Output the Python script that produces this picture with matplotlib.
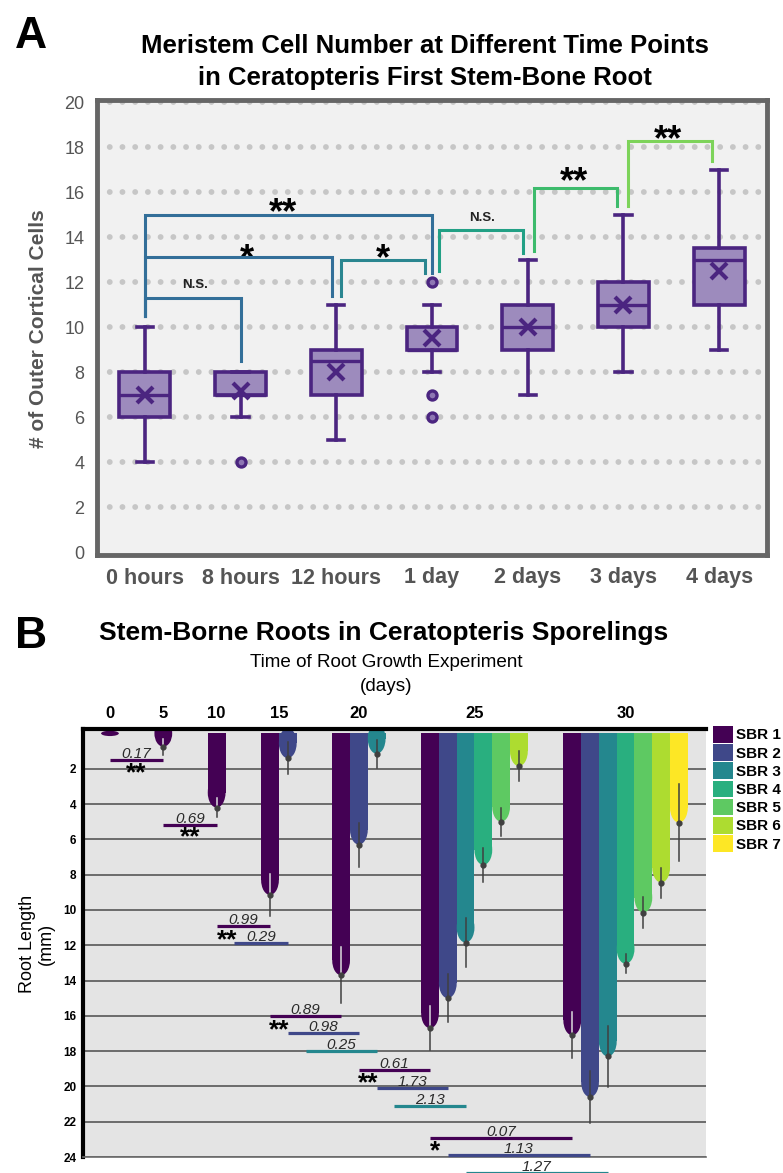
import matplotlib
matplotlib.use("Agg")
import matplotlib.pyplot as plt
from matplotlib.patches import Ellipse, Patch

W, H = 783, 1173
plt.rcParams['font.family'] = ['Liberation Sans', 'DejaVu Sans']

# ---------------- Panel A data ----------------
time_labels = ['0 hours', '8 hours', '12 hours', '1 day', '2 days', '3 days', '4 days']
whisker_low = [4, 6, 5, 8, 7, 8, 9]
q1 = [6, 7, 7, 9, 9, 10, 11]
medians = [7, 7, 8.5, 9, 10, 11, 13]
q3 = [8, 8, 9, 10, 11, 12, 13.5]
whisker_high = [10, 8, 11, 11, 13, 15, 17]
means = [7, 7.15, 8, 9.5, 10, 11, 12.5]
outliers = [[], [4], [], [12, 7, 6], [], [], []]

# significance brackets (category positions / cell counts)
br_left = [0, 0, 0, 2.05, 3.07, 4.07, 5.05]
br_right = [1, 1.95, 3.0, 2.93, 3.95, 4.93, 5.93]
br_top = [11.3, 13.1, 15.0, 13.0, 14.3, 16.2, 18.25]
br_left_end = [10.5, 10.5, 10.5, 11.4, 12.5, 13.4, 15.4]
br_right_end = [8.5, 11.4, 12.4, 12.4, 13.3, 15.4, 17.4]
br_colors = ['#336f99', '#336f99', '#336f99', '#2a8690', '#22a085', '#3dbb6c', '#7dd35a']
br_text = ['N.S.', '*', '**', '*', 'N.S.', '**', '**']
br_text_x = [0.52, 1.07, 1.44, 2.49, 3.52, 4.48, 5.47]
br_text_y = [11.95, 13.3, 15.35, 13.3, 14.9, 16.7, 18.6]

# ---------------- Panel B data ----------------
days = [0, 5, 10, 15, 20, 25, 30]
sbr_names = ['SBR 1', 'SBR 2', 'SBR 3', 'SBR 4', 'SBR 5', 'SBR 6', 'SBR 7']
sbr_colors = ['#440154', '#3f4889', '#24878e', '#29af7f', '#5ec962', '#addc30', '#fde725']
N = None
sbr_mean = [
    [0.15, 0.75, 4.2, 9.15, 13.7, 16.7, 17.1],
    [N, N, N, 1.4, 6.3, 15.0, 20.6],
    [N, N, N, N, 1.15, 11.85, 18.3],
    [N, N, N, N, N, 7.45, 13.05],
    [N, N, N, N, N, 5.0, 10.15],
    [N, N, N, N, N, 1.85, 8.45],
    [N, N, N, N, N, N, 5.05],
]
sbr_err = [
    [0, 0.45, 0.55, 1.2, 1.6, 1.25, 1.3],
    [N, N, N, 0.9, 1.25, 1.35, 1.45],
    [N, N, N, N, 0.8, 1.4, 1.75],
    [N, N, N, N, N, 0.95, 0.55],
    [N, N, N, N, N, 0.8, 0.9],
    [N, N, N, N, N, 0.85, 0.85],
    [N, N, N, N, N, N, 2.2],
]

# t-test annotations (bar slots, root length)
sig_series = [0, 0, 0, 1, 0, 1, 2, 0, 1, 2, 0, 1, 2]
sig_x0 = [1.5, 4.5, 7.5, 8.5, 10.5, 11.5, 12.5, 15.5, 16.5, 17.5, 19.5, 20.5, 21.5]
sig_x1 = [4.5, 7.5, 10.5, 11.5, 14.5, 15.5, 16.5, 19.5, 20.5, 21.5, 27.5, 28.5, 29.5]
sig_y = [1.5, 5.2, 10.9, 11.9, 16.0, 17.0, 18.0, 19.05, 20.1, 21.1, 22.95, 23.9, 24.9]
sig_text = ['0.17', '0.69', '0.99', '0.29', '0.89', '0.98', '0.25',
            '0.61', '1.73', '2.13', '0.07', '1.13', '1.27']
star_text = ['**', '**', '**', '**', '**', '*']
star_x = [2.98, 6.0, 8.07, 11.0, 16.0, 19.8]
star_y = [2.0, 5.6, 11.45, 16.55, 19.55, 23.4]

fig = plt.figure(figsize=(W / 100, H / 100), dpi=100)

# ======================= Panel A =======================
ax1 = fig.add_axes([97 / W, 1 - 555 / H, 670 / W, 455 / H])
ax1.set_facecolor('#f1f1f1')
ax1.set_xlim(-0.5, 6.5)
ax1.set_ylim(-0.13, 20.09)

dark = '#4b2580'
stats = []
for i in range(len(time_labels)):
    stats.append(dict(label=time_labels[i], whislo=whisker_low[i], q1=q1[i], med=medians[i],
                      q3=q3[i], whishi=whisker_high[i], mean=means[i], fliers=outliers[i]))

ax1.bxp(stats, positions=range(len(stats)), widths=0.53, showmeans=True, patch_artist=True,
        capwidths=0.17, zorder=3,
        boxprops=dict(facecolor='#9d8bbd', edgecolor=dark, linewidth=2.6),
        whiskerprops=dict(color=dark, linewidth=2.6),
        capprops=dict(color=dark, linewidth=2.6),
        medianprops=dict(color=dark, linewidth=2.4),
        meanprops=dict(marker='x', markeredgecolor=dark, markersize=11, markeredgewidth=3),
        flierprops=dict(marker='o', markerfacecolor='#8e76b3', markeredgecolor=dark,
                        markersize=6.5, markeredgewidth=2.4))

ax1.set_yticks(range(0, 21, 2))
for v in range(2, 21, 2):
    ax1.axhline(v, color='#c6c6c6', linewidth=4.2, linestyle=(0, (0.01, 2.17)),
                dash_capstyle='round', zorder=1)
ax1.tick_params(axis='y', length=0, pad=9, labelsize=13, labelcolor='#555555')
ax1.tick_params(axis='x', length=0, pad=9, labelsize=15.5, labelcolor='#555555')
for lab in ax1.get_xticklabels():
    lab.set_fontweight('bold')
for sp in ax1.spines.values():
    sp.set_color('#666666')
    sp.set_linewidth(3.5)

for i in range(len(br_text)):
    ax1.plot([br_left[i], br_left[i], br_right[i], br_right[i]],
             [br_left_end[i], br_top[i], br_top[i], br_right_end[i]],
             color=br_colors[i], linewidth=2.2, solid_joinstyle='miter', zorder=4)
    if br_text[i] == 'N.S.':
        ax1.text(br_text_x[i], br_text_y[i] - 0.2, br_text[i], ha='center', va='baseline',
                 fontsize=9.5, fontweight='bold', color='#222222')
    else:
        ax1.text(br_text_x[i], br_text_y[i] - 0.72, br_text[i], ha='center', va='baseline',
                 fontsize=26, fontweight='bold', color='black')

fig.text(31 / W, 1 - 48 / H, 'A', fontsize=32, fontweight='bold', ha='center', va='baseline')
fig.text(425 / W, 1 - 53 / H, 'Meristem Cell Number at Different Time Points',
         fontsize=18.5, fontweight='bold', ha='center', va='baseline')
fig.text(425 / W, 1 - 85 / H, 'in Ceratopteris First Stem-Bone Root',
         fontsize=18.5, fontweight='bold', ha='center', va='baseline')
fig.text(39 / W, 1 - 329 / H, '# of Outer Cortical Cells', rotation=90, fontsize=15,
         fontweight='bold', color='#555555', ha='center', va='center')

# ======================= Panel B =======================
ax2 = fig.add_axes([83.3 / W, 1 - 1157 / H, 622.3 / W, 428 / H])
ax2.set_facecolor('#e4e4e4')
ax2.set_xlim(0, 35)
ax2.set_ylim(24, -0.25)

# bar slots: groups of consecutive bars, two empty slots between groups
counts = [sum(1 for s in sbr_mean if s[g] is not None) for g in range(len(days))]
group_start = []
pos = 1.5
for g in range(len(days)):
    group_start.append(pos)
    pos = pos + counts[g] - 1 + 3
group_center = [group_start[g] + (counts[g] - 1) / 2 for g in range(len(days))]

for s in range(len(sbr_names)):
    for g in range(len(days)):
        L = sbr_mean[s][g]
        if L is None:
            continue
        x = group_start[g] + s
        h = min(0.85, L)
        ax2.bar(x, L - h, width=1.0, bottom=0, color=sbr_colors[s], zorder=2)
        ax2.add_patch(Ellipse((x, L - h), 1.0, 2 * h, facecolor=sbr_colors[s],
                              edgecolor='none', zorder=2))
        e = sbr_err[s][g]
        if e:
            ax2.plot([x, x], [L - e, L + e], color='#404040', linewidth=1.1, zorder=4)
            if s == 0:
                ax2.plot([x, x], [L - e, L], color='#ddcde3', linewidth=1.1, zorder=5)
            ax2.plot(x, L, 'o', color='#404040', markersize=3.5, zorder=6)

for i in range(len(sig_text)):
    ax2.plot([sig_x0[i], sig_x1[i]], [sig_y[i], sig_y[i]], color=sbr_colors[sig_series[i]],
             linewidth=2.3, solid_capstyle='butt', zorder=3, clip_on=False)
    ax2.text((sig_x0[i] + sig_x1[i]) / 2, sig_y[i] - 0.12, sig_text[i], ha='center',
             va='baseline', fontsize=11, style='italic', color='#2a2a2a', clip_on=False)
for i in range(len(star_text)):
    ax2.text(star_x[i], star_y[i] + 0.67, star_text[i], ha='center', va='baseline',
             fontsize=19, fontweight='bold', color='black')

ax2.set_yticks(range(2, 25, 2))
ax2.grid(axis='y', color='#6b6b6b', linewidth=1.4)
ax2.set_axisbelow(True)
ax2.tick_params(axis='y', length=0, pad=5, labelsize=8.5)
for lab in ax2.get_yticklabels():
    lab.set_fontweight('bold')
ax2.xaxis.tick_top()
ax2.set_xticks(group_center)
ax2.set_xticklabels([str(d) for d in days], fontweight='bold', fontsize=12)
ax2.tick_params(axis='x', length=0, pad=6)
ax2.spines['right'].set_visible(False)
ax2.spines['top'].set_color('black')
ax2.spines['top'].set_linewidth(3)
ax2.spines['left'].set_color('black')
ax2.spines['left'].set_linewidth(3)
ax2.spines['bottom'].set_color('#6b6b6b')
ax2.spines['bottom'].set_linewidth(1.2)

handles = [Patch(facecolor=c, edgecolor='none') for c in sbr_colors]
fig.legend(handles, sbr_names, loc='upper left', bbox_to_anchor=(713 / W, 1 - 726 / H),
           frameon=False, prop=dict(size=11, weight='bold'), handlelength=1.3,
           handleheight=1.3, labelspacing=0.1, handletextpad=0.2, borderpad=0,
           borderaxespad=0)

fig.text(31 / W, 1 - 648 / H, 'B', fontsize=32, fontweight='bold', ha='center', va='baseline')
fig.text(384 / W, 1 - 640 / H, 'Stem-Borne Roots in Ceratopteris Sporelings',
         fontsize=19, fontweight='bold', ha='center', va='baseline')
fig.text(386 / W, 1 - 667 / H, 'Time of Root Growth Experiment', fontsize=13.6,
         ha='center', va='baseline')
fig.text(386 / W, 1 - 691 / H, '(days)', fontsize=13.6, ha='center', va='baseline')
fig.text(37 / W, 1 - 944 / H, 'Root Length\n(mm)', rotation=90, fontsize=13,
         ha='center', va='center', multialignment='center', linespacing=1.1)

plt.savefig('out.png', dpi=100)
